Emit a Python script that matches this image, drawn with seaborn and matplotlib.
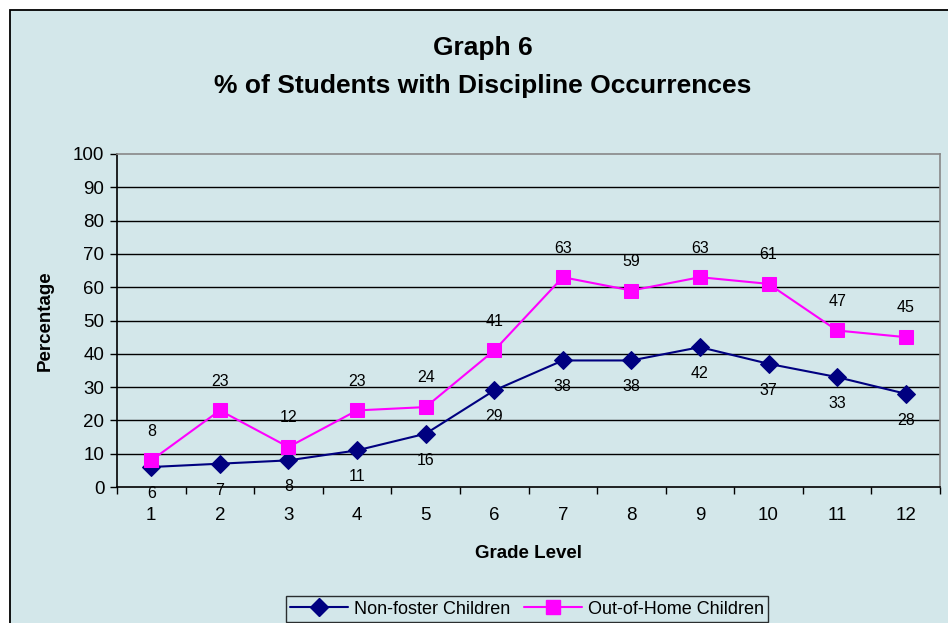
import matplotlib
matplotlib.use("Agg")
import matplotlib.pyplot as plt
from matplotlib.patches import Rectangle
from matplotlib.lines import Line2D
import seaborn as sns
import pandas as pd

grades = [1, 2, 3, 4, 5, 6, 7, 8, 9, 10, 11, 12]
non_foster = [6, 7, 8, 11, 16, 29, 38, 38, 42, 37, 33, 28]
out_of_home = [8, 23, 12, 23, 24, 41, 63, 59, 63, 61, 47, 45]
series_names = ["Non-foster Children", "Out-of-Home Children"]
title_text = "Graph 6\n% of Students with Discipline Occurrences"

sns.set_theme(style="white")
plt.rcParams["font.family"] = ["Liberation Sans", "DejaVu Sans"]
plt.rcParams["text.color"] = "black"
plt.rcParams["axes.labelcolor"] = "black"
plt.rcParams["xtick.color"] = "black"
plt.rcParams["ytick.color"] = "black"

BG = "#d3e7ea"
NAVY = "#000080"
MAG = "#ff00ff"

fig = plt.figure(figsize=(9.48, 6.23), dpi=100)
fig.patch.set_facecolor("white")
fig.patches.append(Rectangle((10 / 948, -0.1), 1.2, 1 - 10 / 623 + 0.1,
                             transform=fig.transFigure, facecolor=BG,
                             edgecolor="black", linewidth=1.3, zorder=-10))

ax = fig.add_axes([117 / 948, 1 - 487 / 623, 823 / 948, 333 / 623])
ax.set_facecolor(BG)

df = pd.DataFrame({"Grade": grades * 2,
                   "Value": non_foster + out_of_home,
                   "Series": [series_names[0]] * 12 + [series_names[1]] * 12})

sns.lineplot(data=df[df.Series == series_names[0]], x="Grade", y="Value", ax=ax,
             color=NAVY, marker="D", markersize=9.5, markeredgecolor=NAVY,
             linewidth=1.5, legend=False, zorder=3)
sns.lineplot(data=df[df.Series == series_names[1]], x="Grade", y="Value", ax=ax,
             color=MAG, marker="s", markersize=10, markeredgecolor=MAG,
             linewidth=1.5, legend=False, zorder=3)

for g, v in zip(grades, non_foster):
    ax.annotate(str(v), (g, v), xytext=(0, -19), textcoords="offset points",
                ha="center", va="center", fontsize=11.5, color="black")
for g, v in zip(grades, out_of_home):
    ax.annotate(str(v), (g, v), xytext=(0, 21), textcoords="offset points",
                ha="center", va="center", fontsize=11.5, color="black")

ax.set_xlim(0.5, 12.5)
ax.set_ylim(0, 100)
ax.set_yticks(range(0, 101, 10))
ax.set_xticks(grades)
ax.set_xticks([g + 0.5 for g in [0] + grades], minor=True)
ax.tick_params(axis="x", which="major", length=0, labelsize=13.5, pad=14.5, colors="black")
ax.tick_params(axis="x", which="minor", length=5, width=1, direction="out", color="black", bottom=True)
ax.tick_params(axis="y", which="major", length=5, width=1, direction="out",
               labelsize=13.5, pad=4, colors="black", left=True)
for y in range(10, 100, 10):
    ax.axhline(y, color="black", linewidth=1, zorder=1)
ax.spines["left"].set_color("black")
ax.spines["bottom"].set_color("black")
ax.spines["top"].set_color("#888888")
ax.spines["right"].set_color("#888888")
for s in ax.spines.values():
    s.set_linewidth(1.2)

ax.set_xlabel("Grade Level", fontsize=13.5, fontweight="bold", labelpad=15)
ax.set_ylabel("Percentage", fontsize=13.5, fontweight="bold", labelpad=14)

fig.text(483 / 948, 1 - 67 / 623, title_text, ha="center", va="center",
         fontsize=19, fontweight="bold", linespacing=1.7)

handles = [Line2D([], [], color=NAVY, marker="D", markersize=9.5, linewidth=1.5),
           Line2D([], [], color=MAG, marker="s", markersize=10, linewidth=1.5)]
leg = fig.legend(handles, series_names, loc="upper center",
                 bbox_to_anchor=(527 / 948, 1 - 596 / 623), ncol=2,
                 fontsize=13, frameon=True, fancybox=False, borderpad=0.25,
                 borderaxespad=0, handlelength=3.2, columnspacing=0.8,
                 handletextpad=0.3)
leg.get_frame().set_edgecolor("black")
leg.get_frame().set_facecolor(BG)
leg.get_frame().set_linewidth(1)

fig.savefig("out.png", dpi=100)
